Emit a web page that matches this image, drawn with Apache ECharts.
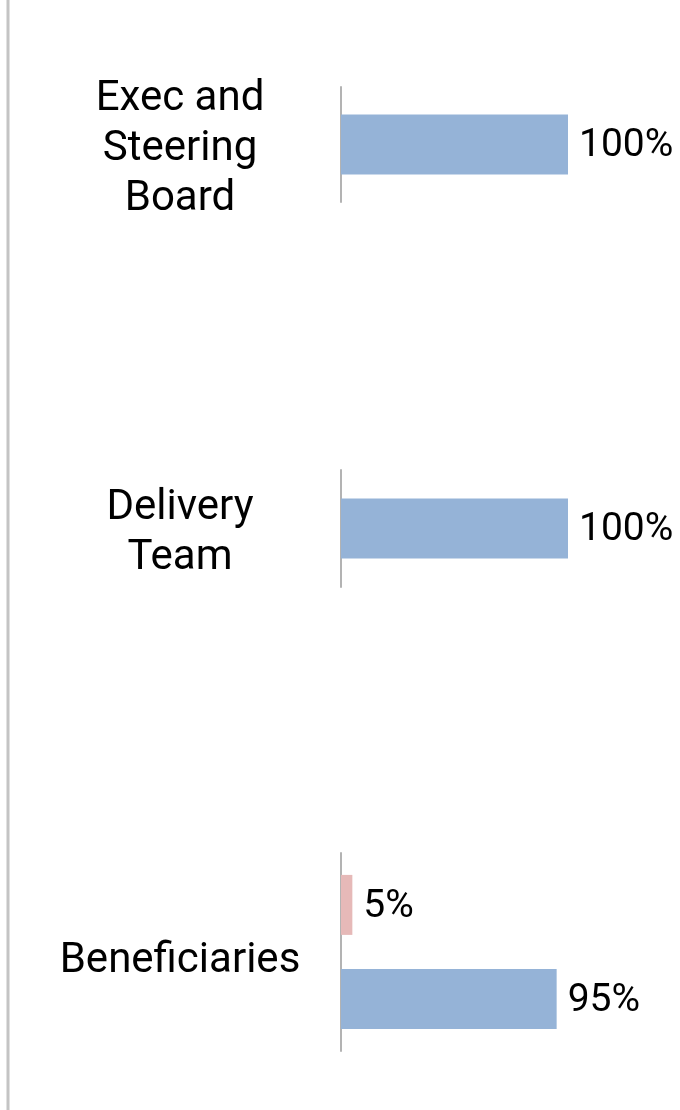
<!DOCTYPE html>
<html>
<head>
<meta charset="utf-8">
<script src="https://cdn.jsdelivr.net/npm/echarts@6/dist/echarts.min.js"></script>
<style>
  html, body { margin: 0; padding: 0; background: #fff; }
  #main { width: 680px; height: 1110px; }
</style>
</head>
<body>
<div id="main"></div>
<script>
  // 数据
  var categories = ['Exec and\nSteering\nBoard', 'Delivery\nTeam', 'Beneficiaries'];
  var noValues = [null, null, 5];     // 粉色
  var yesValues = [100, 100, 95];     // 蓝色

  // 每个分类单独一个 grid
  var grids = [
    { left: 341, right: 112, top: 87, height: 115 },
    { left: 341, right: 112, top: 470, height: 117 },
    { left: 341, right: 112, top: 853, height: 198 }
  ];
  // 分类文字往下挪一点（加一个空的头行）
  var labelShift = ['s10', 's10', 's18'];

  var labelStyle = {
    show: true,
    position: 'right',
    distance: 11,
    offset: [0, 2],
    color: '#000',
    fontFamily: 'Roboto',
    fontSize: 39,
    formatter: '{c}%'
  };

  var catText = { fontFamily: 'Roboto', fontSize: 42, lineHeight: 50, color: '#000' };

  var xAxes = [], yAxes = [], series = [];
  categories.forEach(function (name, i) {
    xAxes.push({
      gridIndex: i, type: 'value', min: 0, max: 100, show: false
    });
    yAxes.push({
      gridIndex: i,
      type: 'category',
      inverse: true,
      data: [name],
      axisLine: { show: true, lineStyle: { color: '#b3b3b3', width: 2 } },
      axisTick: { show: false },
      axisLabel: {
        align: 'center',
        margin: 161,
        formatter: function (v) {
          return '{' + labelShift[i] + '| }\n' + v.split('\n').map(function (l) {
            return '{t|' + l + '}';
          }).join('\n');
        },
        rich: {
          t: catText,
          s10: { fontSize: 8, lineHeight: 10 },
          s18: { fontSize: 8, lineHeight: 18 }
        }
      }
    });
    if (noValues[i] != null) {
      series.push({
        type: 'bar', name: 'No', xAxisIndex: i, yAxisIndex: i,
        data: [noValues[i]], barWidth: 60, barGap: '57%',
        itemStyle: { color: '#e6b9b8' }, label: labelStyle
      });
    }
    series.push({
      type: 'bar', name: 'Yes', xAxisIndex: i, yAxisIndex: i,
      data: [yesValues[i]], barWidth: 60, barGap: '57%',
      itemStyle: { color: '#95b3d7' }, label: labelStyle
    });
  });

  var myChart = echarts.init(document.getElementById('main'));
  myChart.setOption({
    animation: false,
    grid: grids,
    xAxis: xAxes,
    yAxis: yAxes,
    series: series,
    graphic: [{
      type: 'line',
      shape: { x1: 8, y1: 0, x2: 8, y2: 1110 },
      style: { stroke: '#c4c4c4', lineWidth: 3 }
    }]
  });
</script>
</body>
</html>
